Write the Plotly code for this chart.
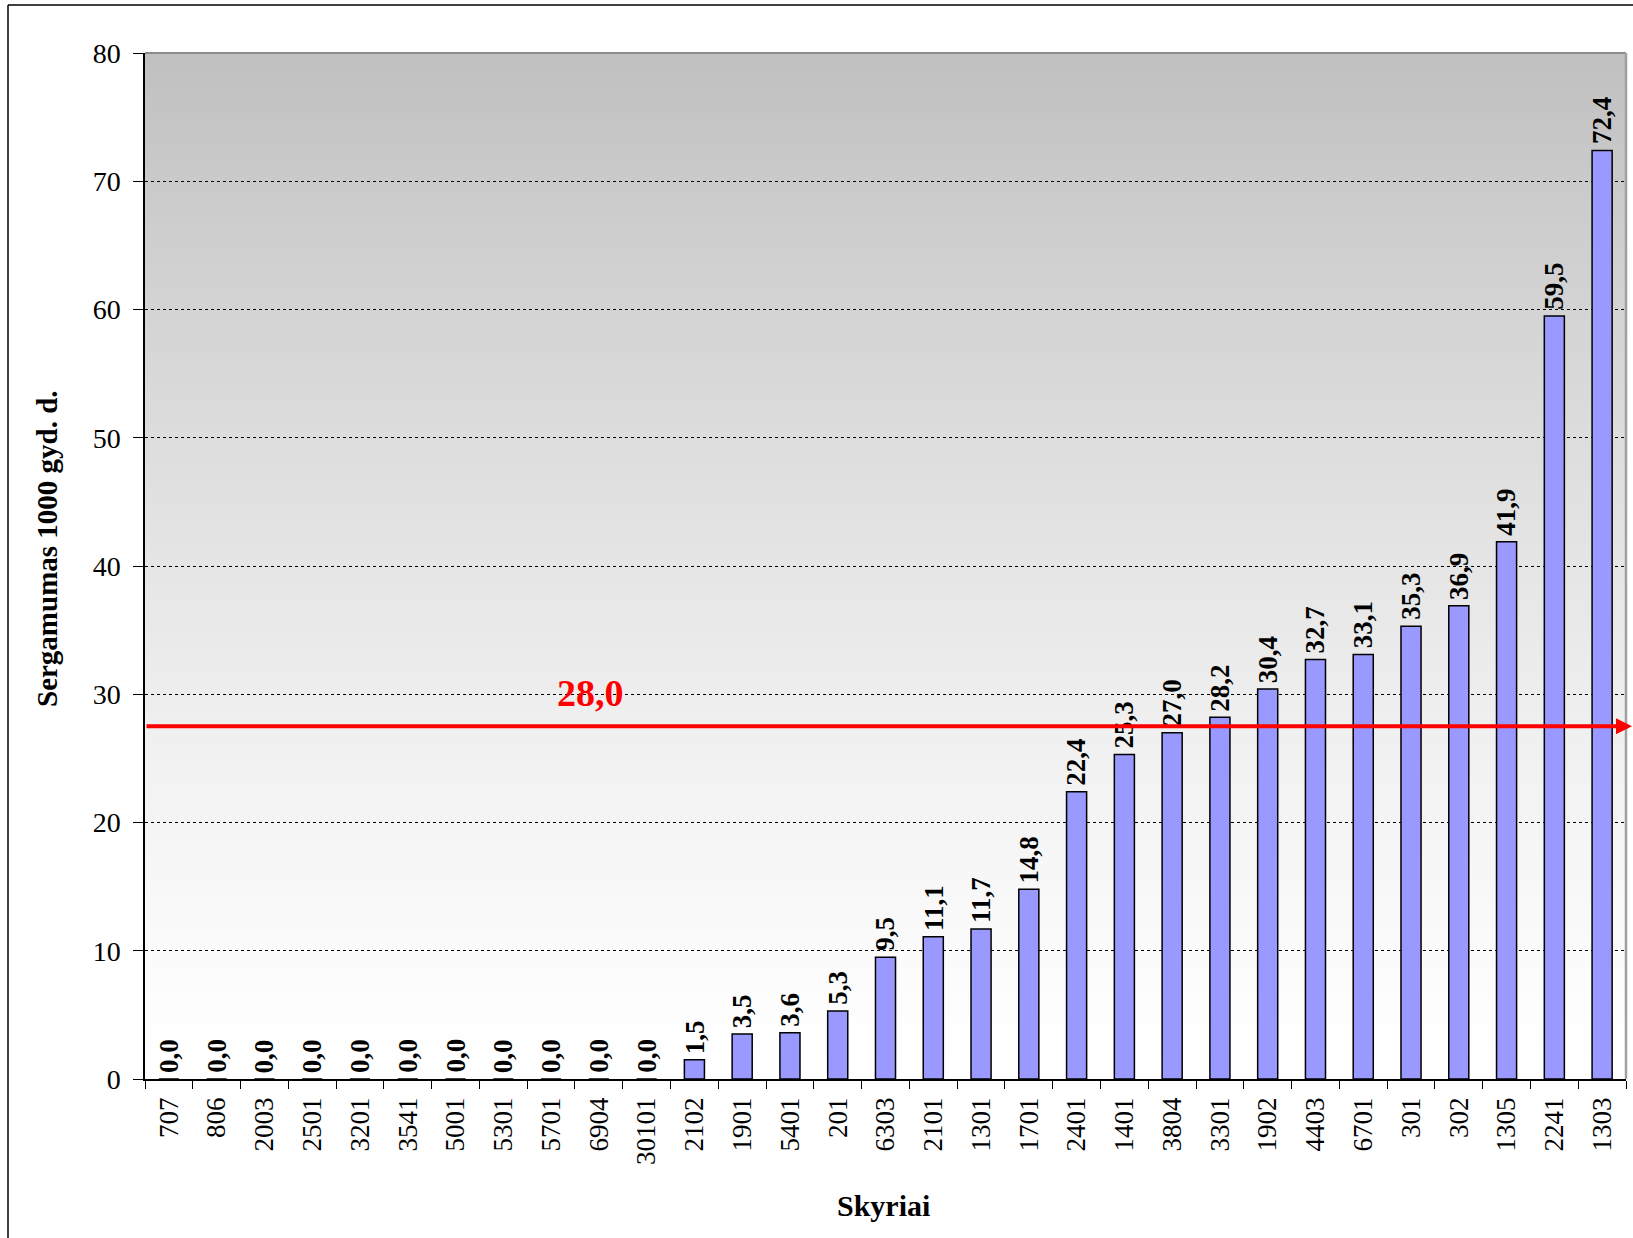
import plotly.graph_objects as go

categories = ["707", "806", "2003", "2501", "3201", "3541", "5001", "5301", "5701", "6904",
              "30101", "2102", "1901", "5401", "201", "6303", "2101", "1301", "1701", "2401",
              "1401", "3804", "3301", "1902", "4403", "6701", "301", "302", "1305", "2241", "1303"]
values = [0.0, 0.0, 0.0, 0.0, 0.0, 0.0, 0.0, 0.0, 0.0, 0.0,
          0.0, 1.5, 3.5, 3.6, 5.3, 9.5, 11.1, 11.7, 14.8, 22.4,
          25.3, 27.0, 28.2, 30.4, 32.7, 33.1, 35.3, 36.9, 41.9, 59.5, 72.4]
average_label = "28,0"
average_line_y = 27.5
y_ticks = [0, 10, 20, 30, 40, 50, 60, 70, 80]

SERIF = "Liberation Serif, Times New Roman, serif"
W, H = 1633, 1238
ML, MR, MT, MB = 145, 7, 53, 159
PW = W - ML - MR
PH = H - MT - MB

def fmt(v):
    return f"{v:.1f}".replace(".", ",")

fig = go.Figure()
fig.add_trace(go.Bar(
    x=categories, y=values, width=0.42,
    marker=dict(color="#9999FF", line=dict(color="black", width=1.5)),
    hoverinfo="x+y",
))

shapes = []
# gradient background bands (white at bottom -> light gray at top)
N = 120
for i in range(N):
    t = (i + 0.5) / N
    c = int(round(255 - (255 - 192) * t ** 1.3))
    shapes.append(dict(type="rect", xref="paper", yref="paper", x0=0, x1=1,
                       y0=i / N, y1=min(1.0, (i + 1) / N + 0.004),
                       fillcolor=f"rgb({c},{c},{c})",
                       line=dict(width=0), layer="below"))
# plot border top and right (gray)
shapes.append(dict(type="line", xref="paper", yref="paper", x0=0, x1=1, y0=1, y1=1,
                   line=dict(color="#8c8c8c", width=2)))
shapes.append(dict(type="line", xref="paper", yref="paper", x0=1, x1=1, y0=0, y1=1,
                   line=dict(color="#a0a0a0", width=2.5)))
# outer chart border (top and left visible)
bx = (8 - ML) / PW
by = (H - MB - 5) / PH
shapes.append(dict(type="line", xref="paper", yref="paper", x0=bx, x1=1.2, y0=by, y1=by,
                   line=dict(color="black", width=1.5)))
shapes.append(dict(type="line", xref="paper", yref="paper", x0=bx, x1=bx, y0=by, y1=-0.3,
                   line=dict(color="black", width=1.5)))

annotations = []
for i, v in enumerate(values):
    annotations.append(dict(x=i, y=v, xref="x", yref="y", text=f"<b>{fmt(v)}</b>",
                            showarrow=False, textangle=-90, yanchor="bottom", xanchor="center",
                            yshift=4, font=dict(family=SERIF, size=27, color="black")))
# average arrow line
annotations.append(dict(x=(W - ML) / PW, y=average_line_y, xref="paper", yref="y",
                        ax=-(W - ML), ay=0, axref="pixel", ayref="pixel",
                        text="", showarrow=True, arrowhead=2, arrowsize=0.8,
                        arrowwidth=4, arrowcolor="#ff0000", standoff=0))
annotations.append(dict(x=(590 - ML) / PW, y=30.1, xref="paper", yref="y",
                        xanchor="center", yanchor="middle",
                        text=f"<b>{average_label}</b>", showarrow=False,
                        font=dict(family=SERIF, size=38, color="#ff0000")))
# axis titles
annotations.append(dict(x=(47 - ML) / PW, y=(H - MB - 549) / PH, xref="paper", yref="paper",
                        xanchor="center", yanchor="middle",
                        text="<b>Sergamumas 1000 gyd. d.</b>", showarrow=False, textangle=-90,
                        font=dict(family=SERIF, size=29, color="black")))
annotations.append(dict(x=(883 - ML) / PW, y=(H - MB - 1205) / PH, xref="paper", yref="paper",
                        xanchor="center", yanchor="middle",
                        text="<b>Skyriai</b>", showarrow=False,
                        font=dict(family=SERIF, size=30, color="black")))

fig.update_layout(
    width=W, height=H,
    margin=dict(l=ML, r=MR, t=MT, b=MB),
    paper_bgcolor="white", plot_bgcolor="rgba(0,0,0,0)",
    showlegend=False,
    bargap=0.58,
    shapes=shapes,
    annotations=annotations,
    xaxis=dict(type="category", categoryorder="array", categoryarray=categories,
               range=[-0.5, len(categories) - 0.5], autorange=False,
               showline=True, linecolor="black", linewidth=1.5,
               ticks="outside", tickson="boundaries", ticklen=8, tickcolor="black", tickwidth=1.2,
               tickangle=-90, ticklabelstandoff=6,
               tickfont=dict(family=SERIF, size=27, color="black"),
               showgrid=False, zeroline=False),
    yaxis=dict(range=[0, 80], tickvals=y_ticks, ticktext=[str(t) for t in y_ticks],
               showline=True, linecolor="black", linewidth=1.5,
               ticks="outside", ticklen=10, tickcolor="black", tickwidth=1.2,
               ticklabelstandoff=7,
               tickfont=dict(family=SERIF, size=28, color="black"),
               showgrid=True, gridcolor="black", gridwidth=1, griddash="3px,3px",
               zeroline=False),
)

fig.write_html("out.html", config={"displayModeBar": False},
               post_script="document.body.style.margin='0';")
